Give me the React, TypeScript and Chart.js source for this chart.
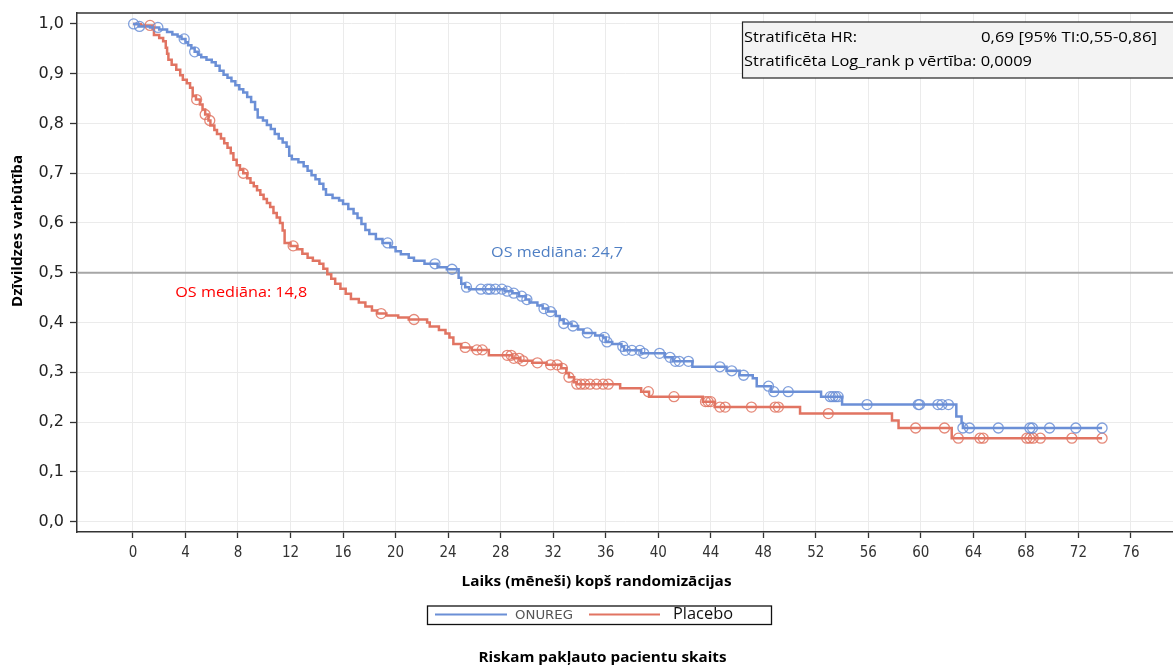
import React, { useEffect, useRef } from 'react';
import { Chart, registerables } from 'chart.js';

Chart.register(...registerables);

// ---------- DATA ----------
const seriesNames = ['ONUREG', 'Placebo'];

const onuregStepTimes = [0, 0.45, 1.3, 2.0, 2.6, 3.0, 3.4, 3.7, 4.0, 4.2, 4.45, 4.7, 4.95, 5.2, 5.6, 6.0, 6.3, 6.6, 6.9, 7.2, 7.5, 7.8, 8.1, 8.4, 8.7, 9.0, 9.3, 9.5, 9.9, 10.2, 10.5, 10.8, 11.1, 11.4, 11.7, 11.9, 12.1, 12.6, 13.0, 13.3, 13.6, 13.9, 14.2, 14.5, 14.7, 15.2, 15.7, 16.0, 16.4, 16.8, 17.1, 17.4, 17.7, 18.0, 18.5, 19.0, 19.6, 20.0, 20.4, 21.0, 21.4, 22.2, 23.2, 23.9, 24.8, 25.0, 25.3, 25.6, 28.3, 28.9, 29.4, 29.9, 30.2, 30.8, 31.2, 31.6, 32.2, 32.5, 32.8, 33.4, 33.9, 34.3, 35.2, 35.8, 36.0, 36.5, 37.2, 37.4, 38.7, 40.5, 41.1, 42.6, 45.2, 46.2, 47.2, 47.5, 48.6, 52.4, 54.0, 62.7, 63.1, 63.2];
const onuregStepSurv = [1.0, 0.995, 0.993, 0.989, 0.984, 0.979, 0.975, 0.970, 0.963, 0.957, 0.951, 0.944, 0.938, 0.933, 0.928, 0.923, 0.916, 0.906, 0.898, 0.892, 0.885, 0.877, 0.869, 0.862, 0.853, 0.843, 0.828, 0.812, 0.806, 0.797, 0.789, 0.779, 0.770, 0.762, 0.753, 0.735, 0.728, 0.722, 0.714, 0.705, 0.696, 0.688, 0.679, 0.668, 0.657, 0.650, 0.645, 0.638, 0.628, 0.619, 0.610, 0.598, 0.586, 0.578, 0.568, 0.560, 0.551, 0.543, 0.537, 0.530, 0.524, 0.518, 0.511, 0.507, 0.490, 0.478, 0.471, 0.467, 0.463, 0.459, 0.453, 0.446, 0.440, 0.434, 0.428, 0.422, 0.413, 0.405, 0.398, 0.393, 0.386, 0.379, 0.374, 0.370, 0.361, 0.357, 0.352, 0.344, 0.338, 0.330, 0.322, 0.311, 0.303, 0.294, 0.288, 0.272, 0.261, 0.251, 0.235, 0.211, 0.198, 0.188];
const onuregEndTime = 73.8;
const onuregCensorTimes = [0.05, 0.5, 1.9, 3.9, 4.7, 19.4, 23.0, 24.3, 25.4, 26.5, 27.0, 27.2, 27.6, 28.1, 28.5, 29.0, 29.6, 30.0, 31.3, 31.8, 32.8, 33.5, 34.6, 35.9, 36.1, 37.3, 37.5, 38.0, 38.6, 38.9, 40.1, 40.9, 41.3, 41.6, 42.3, 44.7, 45.6, 46.5, 48.4, 48.8, 49.9, 53.1, 53.3, 53.5, 53.7, 55.9, 59.8, 59.9, 61.3, 61.6, 62.1, 63.2, 63.7, 65.9, 68.3, 68.5, 69.8, 71.8, 73.8];

const placeboStepTimes = [0, 0.6, 1.5, 1.6, 2.0, 2.3, 2.5, 2.6, 2.7, 2.95, 3.3, 3.6, 3.8, 4.1, 4.35, 4.55, 4.8, 5.1, 5.3, 5.5, 5.75, 5.9, 6.2, 6.4, 6.7, 6.95, 7.2, 7.45, 7.65, 7.9, 8.15, 8.4, 8.7, 8.95, 9.2, 9.45, 9.7, 9.95, 10.2, 10.45, 10.7, 10.95, 11.2, 11.4, 11.55, 12.0, 12.5, 12.9, 13.3, 13.7, 14.2, 14.5, 14.8, 15.1, 15.4, 15.8, 16.2, 16.6, 17.2, 17.7, 18.2, 18.6, 19.3, 20.2, 21.0, 22.4, 22.6, 23.3, 23.8, 24.1, 24.4, 25.0, 25.8, 27.1, 28.9, 29.5, 30.4, 31.5, 32.6, 33.0, 33.2, 33.6, 33.8, 37.1, 38.7, 39.3, 43.4, 44.3, 50.8, 57.8, 58.3, 62.35];
const placeboStepSurv = [1.0, 0.997, 0.99, 0.978, 0.972, 0.965, 0.952, 0.94, 0.928, 0.918, 0.908, 0.897, 0.888, 0.881, 0.872, 0.855, 0.848, 0.838, 0.828, 0.818, 0.806, 0.796, 0.787, 0.779, 0.770, 0.760, 0.751, 0.740, 0.727, 0.716, 0.707, 0.700, 0.690, 0.681, 0.674, 0.666, 0.657, 0.648, 0.640, 0.632, 0.620, 0.611, 0.600, 0.585, 0.560, 0.554, 0.547, 0.538, 0.530, 0.524, 0.518, 0.508, 0.497, 0.488, 0.478, 0.468, 0.458, 0.447, 0.440, 0.432, 0.424, 0.418, 0.414, 0.410, 0.406, 0.400, 0.392, 0.385, 0.378, 0.370, 0.357, 0.350, 0.345, 0.334, 0.328, 0.323, 0.319, 0.315, 0.308, 0.298, 0.290, 0.280, 0.276, 0.268, 0.261, 0.251, 0.241, 0.230, 0.217, 0.203, 0.188, 0.1675];
const placeboEndTime = 73.8;
const placeboCensorTimes = [1.3, 4.85, 5.5, 5.85, 8.4, 12.2, 18.9, 21.4, 25.3, 26.2, 26.6, 28.5, 28.8, 29.0, 29.4, 29.7, 30.8, 31.8, 32.3, 32.7, 33.2, 33.8, 34.1, 34.4, 34.8, 35.3, 35.8, 36.2, 39.25, 41.2, 43.6, 43.8, 44.0, 44.7, 45.1, 47.1, 48.9, 49.15, 52.95, 59.6, 61.8, 62.85, 64.5, 64.75, 68.06, 68.3, 68.56, 69.1, 71.5, 73.8];

const xTickValues = [0, 4, 8, 12, 16, 20, 24, 28, 32, 36, 40, 44, 48, 52, 56, 60, 64, 68, 72, 76];
const yTickValues = [0, 0.1, 0.2, 0.3, 0.4, 0.5, 0.6, 0.7, 0.8, 0.9, 1.0];
const medianLevel = 0.5;
const medianTexts = ['OS mediāna: 24,7', 'OS mediāna: 14,8'];
const statLabels = ['Stratificēta HR:', 'Stratificēta Log_rank p vērtība: 0,0009'];
const statValue = '0,69 [95% TI:0,55-0,86]';
const xTitle = 'Laiks (mēneši) kopš randomizācijas';
const yTitle = 'Dzīvildzes varbūtība';
const riskTitle = 'Riskam pakļauto pacientu skaits';

// ---------- STYLE ----------
const BLUE = '#6b8fd6';
const RED = '#e17462';
const SANS = "'Open Sans', 'Noto Sans', 'Liberation Sans', sans-serif";
const NARROW = "'Liberation Sans Narrow', 'DejaVu Sans Condensed', 'Roboto', sans-serif";

function stepPoints(times: number[], surv: number[], end: number) {
  const pts = times.map((t, i) => ({ x: t, y: surv[i] }));
  pts.push({ x: end, y: surv[surv.length - 1] });
  return pts;
}
function survAt(times: number[], surv: number[], t: number) {
  let s = surv[0];
  for (let i = 0; i < times.length; i++) if (times[i] <= t) s = surv[i];
  return s;
}
function censorPoints(times: number[], surv: number[], ct: number[]) {
  return ct.map((t) => ({ x: t, y: survAt(times, surv, t) }));
}

function fitText(ctx: CanvasRenderingContext2D, text: string, left: number, cy: number, width: number) {
  const w = ctx.measureText(text).width;
  let s = width / w;
  s = Math.max(0.75, Math.min(1.3, s));
  ctx.save();
  ctx.translate(left, cy);
  ctx.scale(s, 1);
  ctx.textAlign = 'left';
  ctx.textBaseline = 'middle';
  ctx.fillText(text, 0, 0);
  ctx.restore();
}

const extrasPlugin = {
  id: 'extras',
  beforeDatasetsDraw(chart: any) {
    const { ctx, chartArea, scales } = chart;
    const y = scales.y.getPixelForValue(medianLevel);
    ctx.save();
    ctx.strokeStyle = '#a6a6a6';
    ctx.lineWidth = 2;
    ctx.beginPath();
    ctx.moveTo(chartArea.left, y);
    ctx.lineTo(chartArea.right, y);
    ctx.stroke();
    ctx.strokeStyle = '#333';
    ctx.lineWidth = 1.4;
    ctx.beginPath();
    ctx.moveTo(chartArea.left, chartArea.top);
    ctx.lineTo(chartArea.right, chartArea.top);
    ctx.stroke();
    ctx.restore();
  },
  afterDraw(chart: any) {
    const { ctx, scales } = chart;
    const xs = scales.x;
    const ys = scales.y;
    ctx.save();

    // median labels
    ctx.font = `15px ${SANS}`;
    ctx.fillStyle = '#4f7fc4';
    fitText(ctx, medianTexts[0], xs.getPixelForValue(32.3) - 66, ys.getPixelForValue(0.540), 132);
    ctx.fillStyle = '#ff0000';
    fitText(ctx, medianTexts[1], xs.getPixelForValue(8.25) - 66, ys.getPixelForValue(0.46), 132);

    // stat box
    ctx.fillStyle = '#f3f3f3';
    ctx.fillRect(742.5, 22, 440, 56);
    ctx.strokeStyle = '#222';
    ctx.lineWidth = 1.2;
    ctx.strokeRect(742.5, 22, 440, 56);
    ctx.fillStyle = '#000';
    ctx.font = `14px ${SANS}`;
    fitText(ctx, statLabels[0], 744, 38.5, 113);
    fitText(ctx, statValue, 981, 38.5, 176);
    fitText(ctx, statLabels[1], 744, 62.5, 288);

    // y title
    ctx.save();
    ctx.translate(18, 231);
    ctx.rotate(-Math.PI / 2);
    ctx.font = `bold 15px ${SANS}`;
    ctx.fillStyle = '#000';
    const yw = 152;
    fitText(ctx, yTitle, -yw / 2, 0, yw);
    ctx.restore();

    // x title
    ctx.font = `bold 14px ${SANS}`;
    ctx.fillStyle = '#000';
    fitText(ctx, xTitle, 461.5, 582, 270);

    // legend
    ctx.strokeStyle = '#111';
    ctx.lineWidth = 1.3;
    ctx.strokeRect(427.5, 606, 344, 18.5);
    ctx.lineWidth = 2;
    ctx.strokeStyle = BLUE;
    ctx.beginPath();
    ctx.moveTo(435, 614.5);
    ctx.lineTo(507, 614.5);
    ctx.stroke();
    ctx.strokeStyle = RED;
    ctx.beginPath();
    ctx.moveTo(589, 614.5);
    ctx.lineTo(660, 614.5);
    ctx.stroke();
    ctx.font = `13px ${NARROW}`;
    ctx.fillStyle = '#555';
    fitText(ctx, seriesNames[0], 515, 615.5, 58);
    ctx.font = `16px ${SANS}`;
    ctx.fillStyle = '#111';
    fitText(ctx, seriesNames[1], 673, 614, 60);

    // risk title
    ctx.font = `bold 14px ${SANS}`;
    ctx.fillStyle = '#000';
    fitText(ctx, riskTitle, 478.5, 658, 248);

    ctx.restore();
  },
};

export default function App() {
  const ref = useRef<HTMLCanvasElement | null>(null);
  useEffect(() => {
    if (!ref.current) return;
    const chart = new Chart(ref.current, {
      type: 'line',
      data: {
        datasets: [
          {
            label: seriesNames[0] + ' censor',
            data: censorPoints(onuregStepTimes, onuregStepSurv, onuregCensorTimes),
            showLine: false,
            pointRadius: 5,
            pointHoverRadius: 5,
            pointStyle: 'circle',
            pointBackgroundColor: 'rgba(0,0,0,0)',
            pointBorderColor: 'rgba(107,143,214,0.85)',
            pointBorderWidth: 1.3,
            borderColor: BLUE,
            order: 1,
          },
          {
            label: seriesNames[1] + ' censor',
            data: censorPoints(placeboStepTimes, placeboStepSurv, placeboCensorTimes),
            showLine: false,
            pointRadius: 5,
            pointHoverRadius: 5,
            pointStyle: 'circle',
            pointBackgroundColor: 'rgba(0,0,0,0)',
            pointBorderColor: 'rgba(225,116,98,0.85)',
            pointBorderWidth: 1.3,
            borderColor: RED,
            order: 1,
          },
          {
            label: seriesNames[0],
            data: stepPoints(onuregStepTimes, onuregStepSurv, onuregEndTime),
            stepped: 'before',
            borderColor: BLUE,
            borderWidth: 2.5,
            pointRadius: 0,
            fill: false,
            order: 2,
          },
          {
            label: seriesNames[1],
            data: stepPoints(placeboStepTimes, placeboStepSurv, placeboEndTime),
            stepped: 'before',
            borderColor: RED,
            borderWidth: 2.5,
            pointRadius: 0,
            fill: false,
            order: 2,
          },
        ],
      },
      options: {
        animation: false,
        responsive: false,
        devicePixelRatio: 1,
        layout: { padding: { top: 13, left: 0, right: 0, bottom: 0 }, autoPadding: false },
        plugins: { legend: { display: false }, tooltip: { enabled: false } },
        scales: {
          x: {
            type: 'linear',
            min: -4.26,
            max: 79.2,
            afterBuildTicks: (s: any) => {
              s.ticks = xTickValues.map((v) => ({ value: v }));
            },
            afterFit: (s: any) => {
              s.height = 134;
              s.paddingLeft = 0;
              s.paddingRight = 0;
            },
            ticks: {
              font: { family: NARROW, size: 15 },
              color: '#333',
              padding: 6,
              maxRotation: 0,
              callback: (v: any) => String(v),
            },
            grid: { color: '#ebebeb', lineWidth: 1, tickLength: 6, tickColor: '#333', tickWidth: 1.3 },
            border: { color: '#333', width: 1.5 },
          },
          y: {
            type: 'linear',
            min: -0.021,
            max: 1.022,
            afterBuildTicks: (s: any) => {
              s.ticks = yTickValues.map((v) => ({ value: v }));
            },
            afterFit: (s: any) => {
              s.width = 77;
              s.paddingTop = 0;
              s.paddingBottom = 0;
            },
            ticks: {
              font: { family: "'DejaVu Sans', sans-serif", size: 16 },
              color: '#222',
              padding: 6,
              callback: (v: any) => (Math.round(Number(v) * 10) / 10).toFixed(1).replace('.', ','),
            },
            grid: { color: '#ebebeb', lineWidth: 1, tickLength: 7, tickColor: '#333', tickWidth: 1.3 },
            border: { color: '#333', width: 1.5 },
          },
        },
      },
      plugins: [extrasPlugin],
    } as any);
    return () => chart.destroy();
  }, []);

  return (
    <div style={{ position: 'absolute', left: 0, top: 0, width: 1173, height: 666, background: '#fff' }}>
      <canvas ref={ref} width={1173} height={666} style={{ display: 'block', width: 1173, height: 666 }} />
    </div>
  );
}
